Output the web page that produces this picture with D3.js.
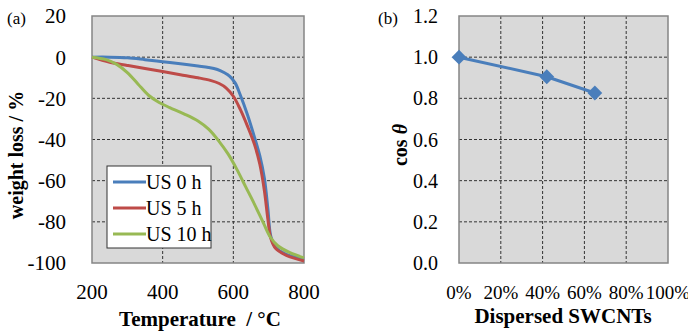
<!DOCTYPE html>
<html>
<head>
<meta charset="utf-8">
<script src="https://cdn.jsdelivr.net/npm/d3@7"></script>
<style>
  body { margin: 0; background: #fff; }
</style>
</head>
<body>
<div id="viz"></div>
<script>
// panel (a) TGA curves
var tempTicks = [200, 400, 600, 800];
var lossTicks = [20, 0, -20, -40, -60, -80, -100];

var us0 = [[200,0],[250,0],[300,-0.3],[350,-1.2],[400,-2.2],[450,-3.2],[500,-4.3],[530,-5],[555,-6],[575,-7.6],[590,-9.3],[605,-12.5],[620,-18.5],[640,-28],[660,-39],[675,-48],[688,-59],[698,-74],[706,-87],[720,-92.5],[750,-95.8],[800,-98]];
var us5 = [[200,0],[250,-2.5],[300,-4],[350,-5.5],[400,-7],[450,-8.5],[500,-10],[535,-11.3],[560,-12.8],[580,-15],[600,-19],[620,-25.5],[640,-33.5],[660,-42.5],[675,-52],[688,-65],[698,-79],[706,-88],[720,-93],[750,-96.3],[800,-99]];
var us10 = [[200,0],[240,-1.2],[270,-3.5],[300,-7.5],[330,-13],[360,-18.5],[390,-22],[420,-24.5],[460,-27.5],[500,-31],[530,-35],[560,-41],[585,-47],[610,-54.5],[635,-63],[660,-71.5],[685,-80.5],[705,-87.5],[725,-91.5],[760,-95],[800,-97.5]];

var seriesNames = ['US 0 h', 'US 5 h', 'US 10 h'];
var seriesColors = ['#4a7ebb', '#be4b48', '#98b954'];

// panel (b) cos theta
var dispersed = [0, 0.42, 0.65];
var cosTheta = [1.0, 0.905, 0.826];
var pctTicks = [0, 0.2, 0.4, 0.6, 0.8, 1.0];
var cosTicks = [0, 0.2, 0.4, 0.6, 0.8, 1.0, 1.2];

var width = 688, height = 331;
var serif = "'Liberation Serif', 'Times New Roman', Times, serif";

var svg = d3.select('#viz').append('svg')
    .attr('width', width)
    .attr('height', height)
    .style('font-family', serif);

function panel(left, right, top, bottom) {
    return { left: left, right: right, top: top, bottom: bottom };
}

function drawFrame(p, xScale, yScale, xGrid, yGrid) {
    var g = svg.append('g');
    g.append('rect')
        .attr('x', p.left).attr('y', p.top)
        .attr('width', p.right - p.left).attr('height', p.bottom - p.top)
        .attr('fill', '#d9d9d9');
    g.selectAll('.vg').data(xGrid).enter().append('line')
        .attr('x1', function(d) { return xScale(d); })
        .attr('x2', function(d) { return xScale(d); })
        .attr('y1', p.top).attr('y2', p.bottom)
        .attr('stroke', '#333').attr('stroke-width', 1)
        .attr('stroke-dasharray', '3,2');
    g.selectAll('.hg').data(yGrid).enter().append('line')
        .attr('y1', function(d) { return yScale(d); })
        .attr('y2', function(d) { return yScale(d); })
        .attr('x1', p.left).attr('x2', p.right)
        .attr('stroke', '#333').attr('stroke-width', 1)
        .attr('stroke-dasharray', '3,2');
    g.append('rect')
        .attr('x', p.left).attr('y', p.top)
        .attr('width', p.right - p.left).attr('height', p.bottom - p.top)
        .attr('fill', 'none').attr('stroke', '#858585').attr('stroke-width', 1.5);
}

// ---------- panel (a)
var pa = panel(92, 304, 16, 263);
var xA = d3.scaleLinear().domain([200, 800]).range([pa.left, pa.right]);
var yA = d3.scaleLinear().domain([-100, 20]).range([pa.bottom, pa.top]);

drawFrame(pa, xA, yA, [400, 600], [0, -20, -40, -60, -80]);

var lineA = d3.line()
    .x(function(d) { return xA(d[0]); })
    .y(function(d) { return yA(d[1]); })
    .curve(d3.curveCatmullRom.alpha(0.5));

[us0, us5, us10].forEach(function(s, i) {
    svg.append('path')
        .datum(s)
        .attr('d', lineA)
        .attr('fill', 'none')
        .attr('stroke', seriesColors[i])
        .attr('stroke-width', 3)
        .attr('stroke-linejoin', 'round');
});

svg.selectAll('.yta').data(lossTicks).enter().append('text')
    .attr('x', 66)
    .attr('y', function(d) { return yA(d); })
    .attr('dy', '0.35em')
    .attr('text-anchor', 'end')
    .style('font-size', '21px')
    .text(function(d) { return d; });

svg.selectAll('.xta').data(tempTicks).enter().append('text')
    .attr('x', function(d) { return xA(d); })
    .attr('y', 299)
    .attr('text-anchor', 'middle')
    .style('font-size', '21px')
    .text(function(d) { return d; });

svg.append('text')
    .attr('x', 200).attr('y', 326)
    .attr('text-anchor', 'middle')
    .style('font-size', '21px').style('font-weight', 'bold')
    .style('white-space', 'pre')
    .text('Temperature  / \u00B0C');

svg.append('text')
    .attr('transform', 'translate(23,155) rotate(-90)')
    .attr('text-anchor', 'middle')
    .style('font-size', '20px').style('font-weight', 'bold')
    .text('weight loss / %');

svg.append('text')
    .attr('x', 7).attr('y', 24)
    .style('font-size', '17px')
    .text('(a)');

// legend
var leg = svg.append('g');
leg.append('rect')
    .attr('x', 107).attr('y', 166)
    .attr('width', 104).attr('height', 82)
    .attr('fill', '#fff').attr('stroke', '#333').attr('stroke-width', 1);
seriesNames.forEach(function(name, i) {
    var ly = 182 + i * 26;
    leg.append('line')
        .attr('x1', 113).attr('x2', 146)
        .attr('y1', ly).attr('y2', ly)
        .attr('stroke', seriesColors[i]).attr('stroke-width', 3);
    leg.append('text')
        .attr('x', 146).attr('y', ly)
        .attr('dy', '0.35em')
        .style('font-size', '20px')
        .text(name);
});

// ---------- panel (b)
var pb = panel(459, 668, 16, 263);
var xB = d3.scaleLinear().domain([0, 1]).range([pb.left, pb.right]);
var yB = d3.scaleLinear().domain([0, 1.2]).range([pb.bottom, pb.top]);

drawFrame(pb, xB, yB, [0.2, 0.4, 0.6, 0.8], [0.2, 0.4, 0.6, 0.8, 1.0]);

var ptsB = dispersed.map(function(d, i) { return [d, cosTheta[i]]; });

svg.append('path')
    .datum(ptsB)
    .attr('d', d3.line()
        .x(function(d) { return xB(d[0]); })
        .y(function(d) { return yB(d[1]); }))
    .attr('fill', 'none')
    .attr('stroke', '#4a7ebb')
    .attr('stroke-width', 3);

svg.selectAll('.mk').data(ptsB).enter().append('path')
    .attr('d', d3.symbol().type(d3.symbolDiamond2).size(140))
    .attr('transform', function(d) { return 'translate(' + xB(d[0]) + ',' + yB(d[1]) + ')'; })
    .attr('fill', '#4a7ebb');

svg.selectAll('.ytb').data(cosTicks).enter().append('text')
    .attr('x', 438)
    .attr('y', function(d) { return yB(d); })
    .attr('dy', '0.35em')
    .attr('text-anchor', 'end')
    .style('font-size', '20px')
    .text(function(d) { return d3.format('.1f')(d); });

svg.selectAll('.xtb').data(pctTicks).enter().append('text')
    .attr('x', function(d) { return xB(d); })
    .attr('y', 299)
    .attr('text-anchor', 'middle')
    .style('font-size', '19px')
    .text(function(d) { return d3.format('.0%')(d); });

svg.append('text')
    .attr('x', 563).attr('y', 323)
    .attr('text-anchor', 'middle')
    .style('font-size', '21px').style('font-weight', 'bold')
    .text('Dispersed SWCNTs');

var ct = svg.append('text')
    .attr('transform', 'translate(407,145) rotate(-90)')
    .attr('text-anchor', 'middle')
    .style('font-size', '20px').style('font-weight', 'bold');
ct.append('tspan').text('cos ');
ct.append('tspan').style('font-style', 'italic').text('\u03B8');

svg.append('text')
    .attr('x', 378).attr('y', 24)
    .style('font-size', '17px')
    .text('(b)');
</script>
</body>
</html>
